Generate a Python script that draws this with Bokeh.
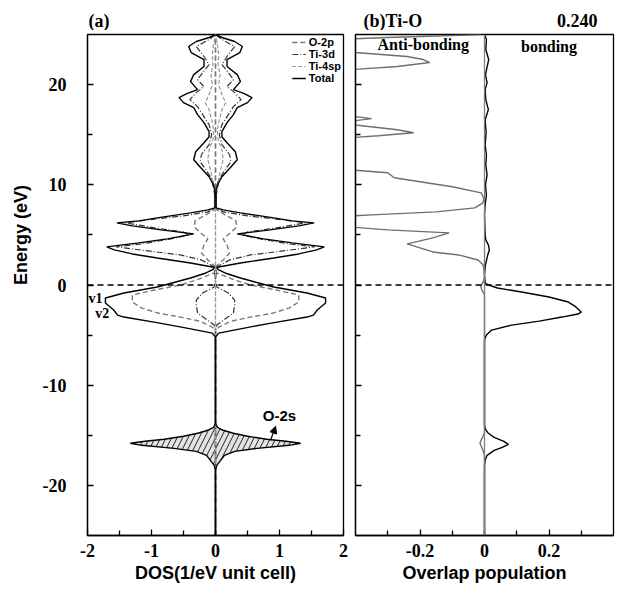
from math import pi
import numpy as np
from bokeh.plotting import figure
from bokeh.layouts import row, column
from bokeh.models import (FixedTicker, Span, Label, Legend, LegendItem, Arrow,
                          NormalHead, Range1d)
from bokeh.embed import file_html
from bokeh.resources import INLINE

# ---------------- data (half-width of the mirrored DOS, 1/eV unit cell) ----------------
total_E = [-25, -18.5, -18.0, -17.5, -17.0, -16.6, -16.3, -16.0, -15.8, -15.6,
           -15.4, -15.1, -14.8, -14.5, -14.2, -13.8, -5.2, -4.8, -4.3, -3.8,
           -3.2, -3.0, -2.5, -1.8, -1.3, -0.8, -0.2, 0.7, 1.2, 1.5,
           1.7, 1.8, 2.2, 2.7, 3.1, 3.5, 3.8, 4.2, 4.6, 5.1,
           5.5, 5.9, 6.2, 6.4, 6.7, 7.2, 7.5, 7.7, 8.5, 9.5,
           10.2, 10.8, 11.7, 12.5, 13.3, 14.2, 14.8, 15.3, 16.2, 17.0,
           17.7, 18.2, 18.7, 19.1, 19.5, 20.3, 21.0, 21.8, 22.5, 23.2,
           23.8, 24.3, 24.7, 25]
total_dos = [0, 0, 0.02, 0.08, 0.14, 0.3, 0.65, 1.15, 1.33, 1.1,
             0.8, 0.5, 0.28, 0.12, 0.03, 0, 0, 0.05, 0.45, 0.87,
             1.43, 1.53, 1.59, 1.72, 1.72, 1.43, 0.91, 0.39, 0.15, 0.05,
             0.02, 0.05, 0.39, 0.91, 1.3, 1.58, 1.7, 1.2, 0.75, 0.34,
             0.85, 1.3, 1.54, 1.2, 0.91, 0.39, 0.12, 0.01, 0.01, 0.01,
             0.05, 0.1, 0.23, 0.34, 0.31, 0.18, 0.1, 0.1, 0.18, 0.28,
             0.34, 0.5, 0.57, 0.45, 0.28, 0.39, 0.34, 0.18, 0.18, 0.38,
             0.42, 0.3, 0.1, 0]

ti3d_E = [-25, -4.6, -4.0, -3.4, -2.8, -2.0, -1.5, -0.8, -0.2, 0.5,
          1.8, 2.5, 3.0, 3.4, 3.8, 4.1, 4.6, 5.0, 5.3, 5.7,
          6.2, 6.5, 6.9, 7.3, 7.7, 9.5, 10.5, 11.5, 12.3, 13.0,
          14.0, 15.0, 16.0, 17.0, 17.8, 18.5, 19.2, 19.8, 20.5, 21.2,
          22.0, 23.0, 23.8, 24.5, 25]
ti3d_dos = [0, 0, 0.02, 0.15, 0.28, 0.3, 0.3, 0.2, 0.02, 0,
            0.02, 0.22, 0.55, 1.05, 1.55, 1.15, 0.7, 0.42, 0.5, 0.95,
            1.4, 1.05, 0.5, 0.12, 0, 0, 0.05, 0.15, 0.24, 0.22,
            0.1, 0.06, 0.1, 0.2, 0.28, 0.4, 0.3, 0.18, 0.28, 0.2,
            0.1, 0.2, 0.3, 0.1, 0]

o2p_E = [-25, -4.6, -4.2, -3.6, -3.2, -2.8, -2.3, -1.7, -1.0, -0.5,
         0.0, 0.5, 1.2, 1.8, 2.5, 3.2, 4.0, 4.6, 5.3, 5.8,
         6.4, 7.0, 7.6, 25]
o2p_dos = [0, 0, 0.05, 0.25, 0.55, 0.9, 1.15, 1.3, 1.3, 0.95,
           0.55, 0.3, 0.02, 0, 0.12, 0.22, 0.18, 0.12, 0.25, 0.33,
           0.32, 0.15, 0, 0]

ti4sp_E = [-25, 8.0, 9.5, 11.0, 12.5, 13.5, 14.5, 15.5, 16.5, 17.5,
           18.2, 19.0, 20.0, 21.0, 22.0, 23.0, 24.0, 25]
ti4sp_dos = [0, 0, 0.03, 0.06, 0.12, 0.1, 0.04, 0.03, 0.06, 0.1,
             0.16, 0.1, 0.05, 0.07, 0.04, 0.05, 0.03, 0]

o2s_range = (-18.5, -13.8)

bond_E = [-25, -18.0, -17.5, -17.0, -16.5, -16.2, -15.9, -15.6, -15.2, -14.8,
          -14.4, -14.0, -5.5, -5.0, -4.5, -4.0, -3.6, -3.2, -2.9, -2.7,
          -2.4, -2.1, -1.7, -1.2, -0.7, -0.3, 0.1, 0.3, 1.0, 2.0,
          3.0, 3.5, 4.0, 4.5, 5.0, 7.0, 8.0, 9.0, 10.0, 11.0,
          12.0, 13.0, 14.0, 15.2, 16.5, 17.5, 18.5, 19.5, 20.2, 21.0,
          22.5, 23.5, 24.5, 25.0]
bond_op = [0, 0, 0.002, 0.008, 0.03, 0.055, 0.074, 0.06, 0.03, 0.012,
           0.003, 0, 0, 0.006, 0.022, 0.084, 0.17, 0.24, 0.29, 0.30,
           0.29, 0.28, 0.26, 0.2, 0.115, 0.04, 0.005, 0.002, 0, 0.003,
           0.01, 0.015, 0.012, 0.004, 0.002, 0, 0.002, 0.006, 0.003, 0.008,
           0.004, 0.006, 0.002, 0.005, 0.002, 0.012, 0.004, 0.002, 0.008, 0.003,
           0.013, 0.004, 0.006, 0]

anti_E = [-25, -17.0, -16.4, -15.8, -15.3, -14.8, -1.0, -0.5, -0.1, 0.3,
          0.8, 1.5, 2.0, 2.5, 3.0, 3.3, 3.6, 4.1, 4.7, 5.2,
          5.5, 5.9, 6.8, 7.0, 7.3, 7.7, 8.2, 8.6, 9.2, 9.8,
          10.5, 10.7, 11.2, 11.6, 14.6, 14.9, 15.2, 15.5, 15.9, 16.2,
          16.4, 16.6, 16.8, 17.0, 21.4, 21.8, 22.2, 22.5, 22.8, 23.2,
          23.5, 24.5, 24.7, 24.9, 25.0]
anti_op = [0, 0, -0.006, -0.014, -0.008, 0, 0, -0.008, -0.012, -0.004,
           0, -0.002, -0.004, -0.02, -0.08, -0.16, -0.19, -0.24, -0.16, -0.11,
           -0.3, -0.46, -0.46, -0.35, -0.15, -0.03, -0.005, -0.002, -0.01, -0.1,
           -0.24, -0.28, -0.3, -0.46, -0.46, -0.33, -0.22, -0.27, -0.38, -0.46,
           -0.4, -0.35, -0.4, -0.46, -0.46, -0.27, -0.17, -0.19, -0.24, -0.4,
           -0.46, -0.46, -0.3, -0.1, -0.01]

y_ticks = [-20, -10, 0, 10, 20]
y_tick_labels = ["-20", "-10", "0", "10", "20"]
y_minor = [-15, -5, 5, 15]
xa_ticks = [-2, -1, 0, 1, 2]
xa_tick_labels = ["-2", "-1", "0", "1", "2"]
xa_minor = [-1.5, -0.5, 0.5, 1.5]
xb_ticks = [-0.2, 0, 0.2]
xb_tick_labels = ["-0.2", "0", "0.2"]
xb_minor = [-0.3, -0.1, 0.1, 0.3]

SERIF = "Liberation Serif"
SANS = "Liberation Sans"

ROW_H = 560
TOP = 4
BOTTOM = 55
HEAD_H = 30


def style(p):
    p.outline_line_color = "black"
    p.outline_line_width = 1.3
    p.xgrid.visible = False
    p.ygrid.visible = False
    p.background_fill_color = "white"
    p.border_fill_color = "white"
    for ax in (p.xaxis[0], p.yaxis[0]):
        ax.major_tick_in = 6
        ax.major_tick_out = 0
        ax.minor_tick_in = 5
        ax.minor_tick_out = 0
        ax.axis_line_width = 1.3
        ax.major_tick_line_width = 1.3
        ax.minor_tick_line_width = 1.3
        ax.major_label_text_font = SERIF
        ax.major_label_text_font_style = "bold"
        ax.major_label_text_font_size = "18px"
        ax.major_label_text_color = "black"
        ax.axis_label_text_font = SANS
        ax.axis_label_text_font_style = "bold"
        ax.axis_label_text_font_size = "18px"
        ax.axis_label_text_color = "black"
    p.xaxis[0].major_label_standoff = 8
    p.xaxis[0].axis_label_standoff = 3


def blank(p):
    p.outline_line_color = None
    p.xgrid.visible = False
    p.ygrid.visible = False
    p.background_fill_color = "white"
    p.border_fill_color = "white"


# ---------------- header with the panel titles ----------------
head = figure(width=617, height=HEAD_H, x_range=Range1d(0, 617), y_range=Range1d(0, HEAD_H),
              x_axis_type=None, y_axis_type=None, output_backend="svg", toolbar_location=None,
              min_border_left=0, min_border_right=0, min_border_top=0, min_border_bottom=0)
blank(head)
for tx, ta, txt in [(88, "left", "(a)"), (363, "left", "(b)Ti-O"), (597, "right", "0.240")]:
    head.add_layout(Label(x=tx, y=10, text=txt, text_font=SERIF, text_font_style="bold",
                          text_font_size="18px", text_align=ta, text_baseline="middle",
                          text_color="black"))

# ---------------- strip with the y axis title ----------------
strip = figure(width=36, height=ROW_H, x_range=Range1d(0, 36), y_range=Range1d(-25, 25),
               x_axis_type=None, y_axis_type=None, output_backend="svg", toolbar_location=None,
               min_border_left=0, min_border_right=0, min_border_top=TOP, min_border_bottom=BOTTOM)
blank(strip)
strip.add_layout(Label(x=20, y=5, text="Energy (eV)", angle=pi / 2, text_font=SANS,
                       text_font_style="bold", text_font_size="18px", text_align="center",
                       text_baseline="middle", text_color="black"))

# ---------------- panel (a) ----------------
p1 = figure(width=313, height=ROW_H, x_range=Range1d(-2, 2), y_range=strip.y_range,
            output_backend="svg", toolbar_location=None,
            min_border_left=51, min_border_right=6, min_border_top=TOP, min_border_bottom=BOTTOM)
style(p1)
p1.xaxis[0].ticker = FixedTicker(ticks=xa_ticks, minor_ticks=xa_minor)
p1.xaxis[0].major_label_overrides = dict(zip(xa_ticks, xa_tick_labels))
p1.yaxis[0].ticker = FixedTicker(ticks=y_ticks, minor_ticks=y_minor)
p1.yaxis[0].major_label_overrides = dict(zip(y_ticks, y_tick_labels))
p1.yaxis[0].major_label_standoff = 21
p1.xaxis[0].axis_label = "DOS(1/eV unit cell)"

tE = np.array(total_E, dtype=float)
tD = np.array(total_dos, dtype=float)
m = (tE >= o2s_range[0]) & (tE <= o2s_range[1])
p1.harea(x1=-tD[m], x2=tD[m], y=tE[m], fill_color="#e4e4e4", fill_alpha=1.0,
         hatch_pattern="/", hatch_color="#222222", hatch_scale=11, hatch_weight=1.0)


def mirrored(p, E, D, **kw):
    E = np.array(E, dtype=float)
    D = np.array(D, dtype=float)
    p.line(-D, E, **kw)
    return p.line(D, E, **kw)


r_o2p = mirrored(p1, o2p_E, o2p_dos, line_color="#7a7a7a", line_width=1.4, line_dash="5 3")
r_ti3d = mirrored(p1, ti3d_E, ti3d_dos, line_color="#333333", line_width=1.2, line_dash="6 2 1 2")
r_ti4sp = mirrored(p1, ti4sp_E, ti4sp_dos, line_color="#999999", line_width=1.2, line_dash="4 2")
r_tot = mirrored(p1, total_E, total_dos, line_color="black", line_width=1.4)

legend = Legend(items=[LegendItem(label="O-2p", renderers=[r_o2p]),
                       LegendItem(label="Ti-3d", renderers=[r_ti3d]),
                       LegendItem(label="Ti-4sp", renderers=[r_ti4sp]),
                       LegendItem(label="Total", renderers=[r_tot])],
                location="top_right", border_line_color=None, background_fill_alpha=0,
                label_text_font=SANS, label_text_font_style="bold", label_text_font_size="11px",
                label_text_color="black",
                glyph_width=14, glyph_height=12, label_height=12, label_standoff=3,
                spacing=0, padding=2, margin=2)
p1.add_layout(legend)

p1.add_layout(Span(location=0, dimension="width", line_color="black", line_width=1.6, line_dash="6 4"))

p1.add_layout(Label(x=-2, y=-1.3, x_offset=1, text="v1", text_font=SERIF, text_font_style="bold",
                    text_font_size="14px", text_baseline="middle", text_color="black"))
p1.add_layout(Label(x=-1.88, y=-2.8, text="v2", text_font=SERIF, text_font_style="bold",
                    text_font_size="14px", text_baseline="middle", text_color="black"))
p1.add_layout(Label(x=1.0, y=-13.0, text="O-2s", text_font=SANS, text_font_style="bold",
                    text_font_size="15px", text_align="center", text_baseline="middle",
                    text_color="black"))
p1.add_layout(Arrow(end=NormalHead(size=7, fill_color="black", line_color="black"),
                    x_start=0.86, y_start=-15.5, x_end=0.94, y_end=-14.1,
                    line_color="black", line_width=1.2))

# ---------------- panel (b) ----------------
p2 = figure(width=268, height=ROW_H, x_range=Range1d(-0.4, 0.4), y_range=strip.y_range,
            output_backend="svg", toolbar_location=None,
            min_border_left=6, min_border_right=4, min_border_top=TOP, min_border_bottom=BOTTOM)
style(p2)
p2.xaxis[0].ticker = FixedTicker(ticks=xb_ticks, minor_ticks=xb_minor)
p2.xaxis[0].major_label_overrides = dict(zip(xb_ticks, xb_tick_labels))
p2.yaxis[0].ticker = FixedTicker(ticks=y_ticks, minor_ticks=y_minor)
p2.yaxis[0].major_label_overrides = {t: "" for t in y_ticks}
p2.yaxis[0].major_label_standoff = 0
p2.xaxis[0].axis_label = "Overlap population"

p2.add_layout(Span(location=0, dimension="height", line_color="#808080", line_width=1.3))
p2.line(anti_op, anti_E, line_color="#6e6e6e", line_width=1.4)
p2.line(bond_op, bond_E, line_color="black", line_width=1.4)
p2.add_layout(Span(location=0, dimension="width", line_color="black", line_width=1.6, line_dash="6 4"))

p2.add_layout(Label(x=-0.19, y=24.0, text="Anti-bonding", text_font=SERIF, text_font_style="bold",
                    text_font_size="16px", text_align="center", text_baseline="middle",
                    text_color="black"))
p2.add_layout(Label(x=0.2, y=23.8, text="bonding", text_font=SERIF, text_font_style="bold",
                    text_font_size="16px", text_align="center", text_baseline="middle",
                    text_color="black"))

layout = column(head, row(strip, p1, p2, spacing=0), spacing=0)
open("out.html", "w").write(file_html(layout, INLINE))
